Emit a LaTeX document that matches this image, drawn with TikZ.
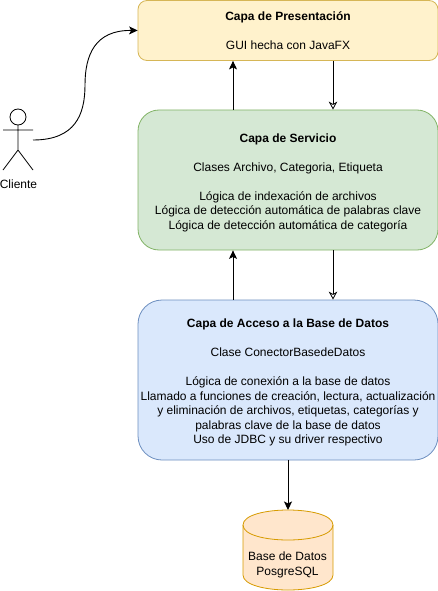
\documentclass[tikz,border=0pt]{standalone}
\usepackage{fontspec}
\setmainfont{Liberation Sans}
\usetikzlibrary{arrows.meta}
\tikzset{
  x=1pt,y=-1pt,
  layer/.style={draw,line width=0.8pt,rounded corners=#1,minimum width=300pt,align=center,inner sep=0pt,
    font=\fontsize{12}{14.5}\selectfont},
  plain/.style={align=center,inner sep=0pt,font=\fontsize{12}{14.5}\selectfont},
  solidtip/.style={-{Stealth[length=8.5pt,width=8pt,inset=2pt]}},
  opentip/.style={-{Stealth[length=8pt,width=8.5pt,inset=2.4pt,fill=white,line width=0.8pt]}},
  link/.style={line width=0.9pt,black},
}
\newcommand{\toppad}{\rule{0pt}{13.5pt}}
\definecolor{presfill}{HTML}{FFF2CC}\definecolor{presline}{HTML}{D6B656}
\definecolor{servfill}{HTML}{D5E8D4}\definecolor{servline}{HTML}{82B366}
\definecolor{datafill}{HTML}{DAE8FC}\definecolor{dataline}{HTML}{6C8EBF}
\definecolor{dbfill}{HTML}{FFE6CC}\definecolor{dbline}{HTML}{D79B00}
\begin{document}
\begin{tikzpicture}
\useasboundingbox (0,0) rectangle (438,591);
\node[layer=9pt,fill=presfill,draw=presline,minimum height=60pt] (pres) at (288,30.5) {\raisebox{-1pt}{\textbf{Capa de Presentación}}\\\mbox{}\\\raisebox{-1pt}{GUI hecha con JavaFX}};
\node[layer=21pt,fill=servfill,draw=servline,minimum height=140pt] (serv) at (288,180) {\toppad\textbf{Capa de Servicio}\\\mbox{}\\Clases Archivo, Categoria, Etiqueta\\\mbox{}\\Lógica de indexación de archivos\\Lógica de detección automática de palabras clave\\Lógica de detección automática de categoría};
\node[layer=24pt,fill=datafill,draw=dataline,minimum height=160pt] (data) at (288,380) {\toppad\textbf{Capa de Acceso a la Base de Datos}\\\mbox{}\\Clase ConectorBasedeDatos\\\mbox{}\\Lógica de conexión a la base de datos\\Llamado a funciones de creación, lectura, actualización\\y eliminación de archivos, etiquetas, categorías y\\palabras clave de la base de datos\\Uso de JDBC y su driver respectivo};
% database cylinder
\draw[line width=0.8pt,draw=dbline,fill=dbfill] (243,525) .. controls (243,505) and (333,505) .. (333,525) -- (333,575) .. controls (333,595) and (243,595) .. (243,575) -- cycle;
\draw[line width=0.8pt,draw=dbline] (243,525) .. controls (243,545) and (333,545) .. (333,525);
\node[plain] (db) at (287.5,565) {Base de Datos\\PosgreSQL};
\coordinate (dbtop) at (288,510);
% actor
\draw[line width=0.8pt] (18,117) circle[radius=8pt];
\draw[line width=0.8pt] (18,125) -- (18,150) (3,130) -- (33,130) (3,170) -- (18,150) -- (33,170);
\node[plain] (cliente) at (18.5,184.5) {Cliente};
\coordinate (actorout) at (33,140);
% x-guides
\coordinate (leftx) at (233,0);
\coordinate (rightx) at (333,0);
% connectors
\draw[link,solidtip] (actorout) .. controls (75,140) and (85,115) .. (85,85) .. controls (85,55) and (95,30) .. (pres.west);
\draw[link,solidtip] (serv.north -| leftx) -- (pres.south -| leftx);
\draw[link,opentip] (pres.south -| rightx) -- (serv.north -| rightx);
\draw[link,solidtip] (data.north -| leftx) -- (serv.south -| leftx);
\draw[link,opentip] (serv.south -| rightx) -- (data.north -| rightx);
\draw[link,solidtip] (data.south) -- (dbtop);
\end{tikzpicture}
\end{document}
